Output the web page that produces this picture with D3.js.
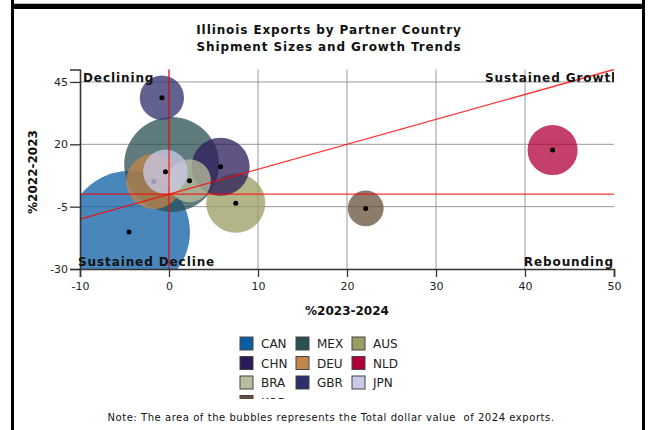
<!DOCTYPE html>
<html>
<head>
<meta charset="utf-8">
<script src="https://cdn.jsdelivr.net/npm/d3@7"></script>
<style>
  html, body { margin: 0; padding: 0; background: #fff; }
  svg { display: block; font-family: "DejaVu Sans", Verdana, sans-serif; }
</style>
</head>
<body>
<svg id="chart" width="649" height="430"></svg>
<script>
// ---- data ----
const countries   = ["CAN", "MEX", "AUS", "CHN", "DEU", "NLD", "BRA", "GBR", "JPN", "KOR"];
const growth2324  = [-4.5, 0.3, 7.5, 5.8, -1.7, 43.1, 2.3, -0.8, -0.4, 22.1];   // x: %2023-2024
const growth2223  = [-15.2, 11.9, -3.6, 11.0, 5.1, 17.7, 5.4, 38.7, 9.0, -5.7]; // y: %2022-2023
const exports2024 = [24.3, 14.7, 5.7, 5.5, 5.0, 4.1, 3.0, 3.2, 3.25, 2.1];     // bubble area
const colors      = ["#0b5ea6", "#2b4f53", "#9b9b62", "#2b1b5a", "#c0864a", "#b0003a", "#b9bf9d", "#2d2e6c", "#c9c9ea", "#65503b"];
const xTicks = [-10, 0, 10, 20, 30, 40, 50];
const yTicks = [-30, -5, 20, 45];
const quadrantLabels = ["Declining", "Sustained Growth", "Sustained Decline", "Rebounding"];

const svg = d3.select("#chart");

// ---- frame ----
svg.append("line").attr("x1", 13).attr("x2", 642).attr("y1", 3.5).attr("y2", 3.5).attr("stroke", "#bbb");
svg.append("rect").attr("x", 11).attr("y", 0).attr("width", 3).attr("height", 430).attr("fill", "#000");
svg.append("rect").attr("x", 642).attr("y", 0).attr("width", 3).attr("height", 430).attr("fill", "#000");
svg.append("rect").attr("x", 11).attr("y", 4).attr("width", 634).attr("height", 5).attr("fill", "#000");

// ---- title ----
const title = svg.append("text").attr("text-anchor", "middle").attr("font-weight", "bold")
  .attr("font-size", 12).attr("letter-spacing", 0.9).attr("fill", "#111");
title.append("tspan").attr("x", 329).attr("y", 34).text("Illinois Exports by Partner Country");
title.append("tspan").attr("x", 329).attr("y", 51).text("Shipment Sizes and Growth Trends");

// ---- scales ----
const x = d3.scaleLinear().domain([-10, 50]).range([80, 614]);
const y = d3.scaleLinear().domain([-30, 50]).range([269, 69.5]);
const r = d3.scaleSqrt().domain([0, d3.max(exports2024)]).range([0, 61]);

const defs = svg.append("defs");
defs.append("clipPath").attr("id", "plotClip").append("rect")
  .attr("x", x(-10)).attr("y", y(50)).attr("width", x(50) - x(-10)).attr("height", y(-30) - y(50));
defs.append("clipPath").attr("id", "labelClip").append("rect")
  .attr("x", 0).attr("y", 0).attr("width", x(50)).attr("height", 430);
defs.append("clipPath").attr("id", "legendClip").append("rect")
  .attr("x", 0).attr("y", 320).attr("width", 649).attr("height", 79);

// ---- grid ----
const grid = svg.append("g").attr("stroke", "#9a9a9a").attr("stroke-width", 1);
grid.selectAll(".vg").data(xTicks.filter(d => d > -10 && d < 50)).join("line")
  .attr("x1", d => x(d)).attr("x2", d => x(d)).attr("y1", y(50)).attr("y2", y(-30));
grid.selectAll(".hg").data(yTicks.filter(d => d > -30)).join("line")
  .attr("x1", x(-10)).attr("x2", x(50)).attr("y1", d => y(d)).attr("y2", d => y(d));

// ---- bubbles ----
const data = countries.map((c, i) => ({ c, x: growth2324[i], y: growth2223[i], v: exports2024[i], col: colors[i] }));
const bubbles = svg.append("g").attr("clip-path", "url(#plotClip)");
data.forEach(d => {
  const g = bubbles.append("g");
  g.append("circle").attr("cx", x(d.x)).attr("cy", y(d.y)).attr("r", r(d.v))
    .attr("fill", d.col).attr("fill-opacity", 0.75);
  g.append("circle").attr("cx", x(d.x)).attr("cy", y(d.y)).attr("r", 2.5).attr("fill", "#000");
});

// ---- reference lines ----
const ref = svg.append("g").attr("stroke", "#ff0000").attr("stroke-width", 1.3).attr("stroke-opacity", 0.8);
ref.append("line").attr("x1", x(-10)).attr("x2", x(50)).attr("y1", y(0)).attr("y2", y(0));
ref.append("line").attr("x1", x(0)).attr("x2", x(0)).attr("y1", y(50)).attr("y2", y(-30));
ref.append("line").attr("x1", x(-10)).attr("x2", x(50)).attr("y1", y(-10)).attr("y2", y(50));

// ---- axes ----
const fmt = d => String(d);
const xAxis = svg.append("g").attr("transform", `translate(0,${y(-30)})`)
  .call(d3.axisBottom(x).tickValues(xTicks).tickFormat(fmt).tickSize(8).tickPadding(5));
const yAxis = svg.append("g").attr("transform", `translate(${x(-10)},0)`)
  .call(d3.axisLeft(y).tickValues(yTicks).tickFormat(fmt).tickSize(10).tickPadding(2));
[xAxis, yAxis].forEach(a => {
  a.attr("font-family", "DejaVu Sans, sans-serif").attr("font-size", 11);
  a.select(".domain").attr("stroke", "#333").attr("stroke-width", 1.6);
  a.selectAll(".tick line").attr("stroke", "#333").attr("stroke-width", 1.3);
  a.selectAll(".tick text").attr("fill", "#222");
});

svg.append("text").attr("x", 347).attr("y", 315).attr("text-anchor", "middle")
  .attr("font-weight", "bold").attr("font-size", 12).attr("fill", "#111").text("%2023-2024");
svg.append("text").attr("transform", "translate(37,172) rotate(-90)").attr("text-anchor", "middle")
  .attr("font-weight", "bold").attr("font-size", 12).attr("fill", "#111").text("%2022-2023");

// ---- quadrant labels ----
const ql = svg.append("g").attr("font-weight", "bold").attr("font-size", 12)
  .attr("letter-spacing", 0.9).attr("fill", "#111").attr("clip-path", "url(#labelClip)");
ql.append("text").attr("x", 83).attr("y", 82).text(quadrantLabels[0]);
ql.append("text").attr("x", 620.5).attr("y", 82).attr("text-anchor", "end").text(quadrantLabels[1]);
ql.append("text").attr("x", 78).attr("y", 266).text(quadrantLabels[2]);
ql.append("text").attr("x", 614).attr("y", 266).attr("text-anchor", "end").text(quadrantLabels[3]);

// ---- legend ----
const legend = svg.append("g").attr("clip-path", "url(#legendClip)");
data.forEach((d, i) => {
  const col = i % 3, row = Math.floor(i / 3);
  const lx = 240 + col * 56, ly = 337 + row * 19.5;
  legend.append("rect").attr("x", lx).attr("y", ly).attr("width", 13).attr("height", 13)
    .attr("fill", d.col).attr("stroke", "#444").attr("stroke-width", 1);
  legend.append("text").attr("x", lx + 21).attr("y", ly + 11).attr("font-size", 12)
    .attr("fill", "#222").text(d.c);
});

// ---- note ----
svg.append("text").attr("x", 331).attr("y", 421).attr("text-anchor", "middle")
  .attr("font-size", 10).attr("letter-spacing", 0.55).attr("fill", "#111")
  .attr("xml:space", "preserve").style("white-space", "pre")
  .text("Note: The area of the bubbles represents the Total dollar value  of 2024 exports.");
</script>
</body>
</html>
